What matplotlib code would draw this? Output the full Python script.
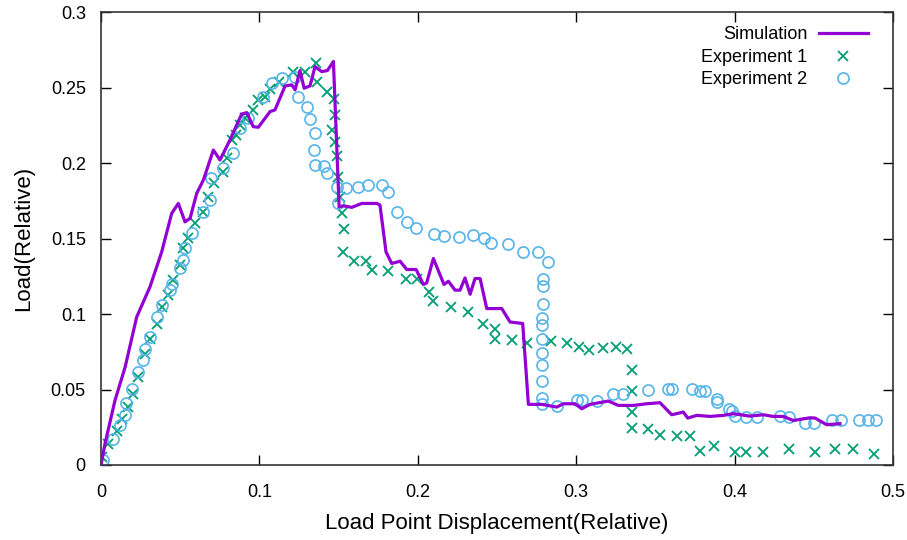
import matplotlib
matplotlib.use("Agg")
import matplotlib.pyplot as plt

# Simulation curve
sim_x = [0.0, 0.0025, 0.0088, 0.0152, 0.0225, 0.0309, 0.0383, 0.0446, 0.0488, 0.0530,
         0.0562, 0.0604, 0.0646, 0.0709, 0.0751, 0.0814, 0.0888, 0.0920, 0.0961, 0.0993,
         0.1067, 0.1098, 0.1162, 0.1204, 0.1225, 0.1256, 0.1282, 0.1319, 0.1351, 0.1393,
         0.1429, 0.1467, 0.1503, 0.1530, 0.1583, 0.1646, 0.1741, 0.1761, 0.1799, 0.1835,
         0.1888, 0.1930, 0.1989, 0.2035, 0.2056, 0.2098, 0.2165, 0.2193, 0.2235, 0.2266,
         0.2298, 0.2330, 0.2361, 0.2393, 0.2435, 0.2530, 0.2582, 0.2662, 0.2698, 0.2782,
         0.2877, 0.2919, 0.2992, 0.3035, 0.3087, 0.3203, 0.3266, 0.3360, 0.3445, 0.3529,
         0.3603, 0.3676, 0.3704, 0.3761, 0.3845, 0.3929, 0.3992, 0.4097, 0.4181, 0.4244,
         0.4307, 0.4371, 0.4476, 0.4508, 0.4581, 0.4665]
sim_y = [0.0, 0.0141, 0.0428, 0.0649, 0.0981, 0.1181, 0.1413, 0.1668, 0.1734, 0.1612,
         0.1635, 0.1801, 0.1889, 0.2088, 0.2022, 0.2155, 0.2327, 0.2336, 0.2243, 0.2239,
         0.2343, 0.2354, 0.2513, 0.2520, 0.2487, 0.2615, 0.2498, 0.2513, 0.2641, 0.2608,
         0.2615, 0.2675, 0.1712, 0.1718, 0.1708, 0.1734, 0.1734, 0.1723, 0.1413, 0.1336,
         0.1351, 0.1296, 0.1296, 0.1197, 0.1207, 0.1369, 0.1197, 0.1218, 0.1159, 0.1159,
         0.1240, 0.1132, 0.1236, 0.1236, 0.1037, 0.1037, 0.0948, 0.0938, 0.0402, 0.0402,
         0.0384, 0.0406, 0.0406, 0.0373, 0.0402, 0.0424, 0.0395, 0.0395, 0.0406, 0.0413,
         0.0333, 0.0351, 0.0311, 0.0329, 0.0322, 0.0329, 0.0340, 0.0324, 0.0333, 0.0322,
         0.0322, 0.0295, 0.0313, 0.0311, 0.0267, 0.0274]

# Experiment 1 (crosses)
exp1_x = [0.0004, 0.0046, 0.0099, 0.0131, 0.0172, 0.0204, 0.0235, 0.0278, 0.0309, 0.0352,
          0.0383, 0.0425, 0.0456, 0.0499, 0.0520, 0.0551, 0.0593, 0.0642, 0.0677, 0.0713,
          0.0772, 0.0794, 0.0825, 0.0852, 0.0878, 0.0909, 0.0961, 0.0993, 0.1035, 0.1067,
          0.1126, 0.1214, 0.1288, 0.1357, 0.1366, 0.1429, 0.1473, 0.1477, 0.1456, 0.1477,
          0.1488, 0.1498, 0.1509, 0.1520, 0.1536, 0.1526, 0.1599, 0.1673, 0.1709, 0.1814,
          0.1926, 0.1993, 0.2073, 0.2098, 0.2208, 0.2315, 0.2414, 0.2487, 0.2487, 0.2597,
          0.2688, 0.2839, 0.2940, 0.3020, 0.3083, 0.3167, 0.3251, 0.3319, 0.3350, 0.3350,
          0.3350, 0.3350, 0.3455, 0.3529, 0.3634, 0.3718, 0.3782, 0.3870, 0.4003, 0.4072,
          0.4181, 0.4345, 0.4508, 0.4634, 0.4749, 0.4880]
exp1_y = [0.0052, 0.0141, 0.0224, 0.0307, 0.0384, 0.0473, 0.0583, 0.0738, 0.0838, 0.0938,
          0.1048, 0.1126, 0.1225, 0.1325, 0.1436, 0.1502, 0.1602, 0.1679, 0.1778, 0.1867,
          0.1944, 0.2033, 0.2155, 0.2188, 0.2254, 0.2299, 0.2354, 0.2420, 0.2442, 0.2491,
          0.2542, 0.2608, 0.2608, 0.2668, 0.2538, 0.2475, 0.2425, 0.2321, 0.2221, 0.2143,
          0.2048, 0.1911, 0.1778, 0.1668, 0.1564, 0.1413, 0.1351, 0.1351, 0.1296, 0.1287,
          0.1230, 0.1230, 0.1147, 0.1086, 0.1048, 0.1015, 0.0933, 0.0900, 0.0838, 0.0827,
          0.0809, 0.0820, 0.0811, 0.0782, 0.0760, 0.0778, 0.0782, 0.0772, 0.0627, 0.0490,
          0.0351, 0.0247, 0.0240, 0.0201, 0.0189, 0.0189, 0.0092, 0.0125, 0.0085, 0.0085,
          0.0085, 0.0103, 0.0085, 0.0103, 0.0103, 0.0074]

# Experiment 2 (circles)
exp2_x = [0.0011, 0.0078, 0.0120, 0.0152, 0.0158, 0.0194, 0.0235, 0.0267, 0.0278, 0.0309,
          0.0352, 0.0383, 0.0436, 0.0446, 0.0499, 0.0520, 0.0530, 0.0573, 0.0646, 0.0688,
          0.0694, 0.0772, 0.0835, 0.0878, 0.0930, 0.1025, 0.1078, 0.1141, 0.1225, 0.1246,
          0.1299, 0.1319, 0.1351, 0.1345, 0.1349, 0.1408, 0.1425, 0.1488, 0.1498, 0.1545,
          0.1625, 0.1684, 0.1772, 0.1814, 0.1867, 0.1930, 0.1987, 0.2104, 0.2165, 0.2262,
          0.2347, 0.2418, 0.2462, 0.2568, 0.2666, 0.2757, 0.2820, 0.2792, 0.2792, 0.2789,
          0.2782, 0.2782, 0.2782, 0.2782, 0.2782, 0.2782, 0.2782, 0.2782, 0.2879, 0.3003,
          0.3035, 0.3129, 0.3230, 0.3297, 0.3455, 0.3581, 0.3603, 0.3729, 0.3782, 0.3813,
          0.3887, 0.3891, 0.3967, 0.3982, 0.4003, 0.4072, 0.4139, 0.4286, 0.4345, 0.4444,
          0.4501, 0.4613, 0.4670, 0.4787, 0.4844, 0.4893]
exp2_y = [0.0030, 0.0174, 0.0262, 0.0329, 0.0410, 0.0506, 0.0616, 0.0699, 0.0772, 0.0849,
          0.0981, 0.1059, 0.1159, 0.1203, 0.1303, 0.1358, 0.1436, 0.1535, 0.1679, 0.1756,
          0.1900, 0.1967, 0.2066, 0.2232, 0.2299, 0.2442, 0.2531, 0.2564, 0.2575, 0.2442,
          0.2372, 0.2292, 0.2203, 0.2088, 0.1989, 0.1982, 0.1934, 0.1845, 0.1734, 0.1838,
          0.1845, 0.1858, 0.1858, 0.1807, 0.1679, 0.1610, 0.1568, 0.1531, 0.1517, 0.1509,
          0.1522, 0.1502, 0.1469, 0.1462, 0.1413, 0.1413, 0.1345, 0.1236, 0.1185, 0.1066,
          0.0977, 0.0926, 0.0838, 0.0742, 0.0665, 0.0554, 0.0445, 0.0402, 0.0388, 0.0428,
          0.0428, 0.0424, 0.0473, 0.0473, 0.0495, 0.0506, 0.0506, 0.0506, 0.0490, 0.0490,
          0.0440, 0.0417, 0.0373, 0.0357, 0.0322, 0.0317, 0.0317, 0.0324, 0.0317, 0.0278,
          0.0278, 0.0300, 0.0300, 0.0300, 0.0300, 0.0300]

x_ticks = [0, 0.1, 0.2, 0.3, 0.4, 0.5]
x_tick_labels = ["0", "0.1", "0.2", "0.3", "0.4", "0.5"]
y_ticks = [0, 0.05, 0.1, 0.15, 0.2, 0.25, 0.3]
y_tick_labels = ["0", "0.05", "0.1", "0.15", "0.2", "0.25", "0.3"]

plt.rcParams['font.family'] = ['Liberation Sans', 'DejaVu Sans']

fig = plt.figure(figsize=(9.07, 5.40), dpi=100)
ax = fig.add_axes([0.1114, 0.1389, 0.8732, 0.838])

ax.plot(sim_x, sim_y, color='#9400D3', lw=2.3, label='Simulation', zorder=3)
ax.plot(exp1_x, exp1_y, ls='none', marker='x', ms=7.5, mew=1.3, color='#009E73',
        label='Experiment 1', zorder=2)
ax.plot(exp2_x, exp2_y, ls='none', marker='o', ms=8, mew=1.2, mfc='none',
        mec='#56B4E9', label='Experiment 2', zorder=2)

ax.set_xlim(0, 0.5)
ax.set_ylim(0, 0.3)
ax.set_xticks(x_ticks)
ax.set_xticklabels(x_tick_labels)
ax.set_yticks(y_ticks)
ax.set_yticklabels(y_tick_labels)
ax.tick_params(direction='in', length=7, width=1, top=True, right=True,
               labelsize=13)
ax.tick_params(axis='x', pad=14)
ax.tick_params(axis='y', pad=11)
for s in ax.spines.values():
    s.set_linewidth(1.2)
    s.set_color('#333333')

ax.set_xlabel('Load Point Displacement(Relative)', fontsize=16, labelpad=8)
ax.set_ylabel('Load(Relative)', fontsize=16, labelpad=12)

leg = ax.legend(loc='upper right', bbox_to_anchor=(0.977, 0.985), markerfirst=False,
                frameon=False, fontsize=13, handlelength=2.7, labelspacing=0.3,
                borderaxespad=0.0, handletextpad=0.65)

fig.savefig('out.png', dpi=100)
